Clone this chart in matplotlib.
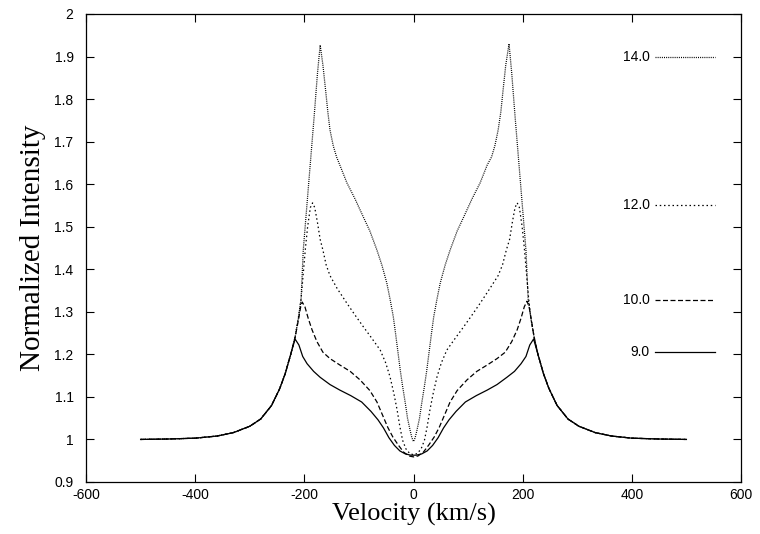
import matplotlib
matplotlib.use("Agg")
import matplotlib.pyplot as plt
from matplotlib.lines import Line2D

plt.rcParams['axes.unicode_minus'] = False

labels = ["14.0", "12.0", "10.0", "9.0"]

v9 = [-500, -450, -400, -360, -330, -300, -280, -260, -245, -235, -225, -217, -210, -203, -195,
      -183, -171, -153, -135, -115, -95, -78, -65, -55, -45, -35, -25, -15, -5,
      5, 15, 25, 35, 45, 55, 65, 78, 95, 115, 135, 153, 171, 185, 197, 206, 213, 220,
      228, 238, 248, 263, 283, 303, 333, 363, 400, 450, 500]
i9 = [1.000, 1.001, 1.003, 1.008, 1.016, 1.031, 1.048, 1.080, 1.120, 1.155, 1.200, 1.236, 1.222, 1.195, 1.178,
      1.160, 1.146, 1.129, 1.116, 1.103, 1.088, 1.066, 1.046, 1.027, 1.004, 0.986, 0.973, 0.966, 0.963,
      0.963, 0.966, 0.973, 0.986, 1.004, 1.027, 1.046, 1.066, 1.088, 1.103, 1.116, 1.129, 1.146, 1.160, 1.178, 1.195, 1.222, 1.236,
      1.200, 1.155, 1.120, 1.080, 1.048, 1.031, 1.016, 1.008, 1.003, 1.001, 1.000]

v10 = [-500, -450, -400, -360, -330, -300, -280, -260, -245, -235, -225, -217, -211, -207, -204, -199,
       -193, -186, -177, -166, -153, -135, -116, -98, -80, -67, -57, -47, -38, -28, -18, -8, 0,
       8, 18, 28, 38, 47, 57, 67, 80, 98, 116, 135, 153, 168, 180, 190, 197, 203, 208, 212, 216, 221,
       228, 238, 248, 263, 283, 303, 333, 363, 400, 450, 500]
i10 = [1.000, 1.001, 1.003, 1.008, 1.016, 1.031, 1.048, 1.080, 1.120, 1.155, 1.200, 1.240, 1.280, 1.310, 1.323, 1.312,
       1.285, 1.258, 1.230, 1.205, 1.190, 1.175, 1.160, 1.140, 1.115, 1.088, 1.058, 1.028, 1.006, 0.987, 0.970, 0.961, 0.959,
       0.961, 0.970, 0.987, 1.006, 1.028, 1.058, 1.088, 1.115, 1.140, 1.160, 1.175, 1.190, 1.205, 1.230, 1.258, 1.285, 1.312, 1.325, 1.310, 1.280, 1.240,
       1.200, 1.155, 1.120, 1.080, 1.048, 1.031, 1.016, 1.008, 1.003, 1.001, 1.000]

v12 = [-500, -450, -400, -360, -330, -300, -280, -260, -245, -235, -225, -217, -211, -206, -202, -198,
       -194, -189, -185, -181, -176, -171, -166, -160, -153, -140, -122, -107, -92, -76, -61, -51, -43,
       -36, -30, -25, -20, -14, -7, 0,
       7, 14, 20, 25, 30, 36, 43, 51, 61, 76, 92, 107, 122, 140, 155, 163, 170, 176, 181, 186, 190,
       194, 199, 203, 207, 211, 215, 221,
       228, 238, 248, 263, 283, 303, 333, 363, 400, 450, 500]
i12 = [1.000, 1.001, 1.003, 1.008, 1.016, 1.031, 1.048, 1.080, 1.120, 1.155, 1.200, 1.240, 1.285, 1.330, 1.390, 1.450,
       1.500, 1.545, 1.556, 1.545, 1.510, 1.470, 1.445, 1.410, 1.385, 1.355, 1.320, 1.292, 1.265, 1.237, 1.210, 1.180, 1.147,
       1.108, 1.069, 1.030, 0.998, 0.978, 0.967, 0.964,
       0.967, 0.978, 0.998, 1.030, 1.069, 1.108, 1.147, 1.180, 1.210, 1.237, 1.265, 1.292, 1.320, 1.355, 1.385, 1.410, 1.445, 1.470, 1.510, 1.545, 1.556,
       1.545, 1.500, 1.450, 1.390, 1.330, 1.285, 1.240,
       1.200, 1.155, 1.120, 1.080, 1.048, 1.031, 1.016, 1.008, 1.003, 1.001, 1.000]

v14 = [-500, -450, -400, -360, -330, -300, -280, -260, -245, -235, -225, -217, -211, -206, -202, -196,
       -189, -182, -176, -171, -166, -161, -157, -153, -147, -141, -135, -122, -107, -92, -80, -67, -58,
       -49, -43, -37, -33, -29, -24, -20, -15, -11, -6, -3, 0,
       3, 6, 11, 15, 20, 24, 29, 33, 37, 43, 49, 58, 67, 80, 92, 107, 122, 135, 143, 149, 155, 160,
       164, 169, 175, 180, 186, 193, 200, 206, 210, 215, 221,
       228, 238, 248, 263, 283, 303, 333, 363, 400, 450, 500]
i14 = [1.000, 1.001, 1.003, 1.008, 1.016, 1.031, 1.048, 1.080, 1.120, 1.155, 1.200, 1.240, 1.285, 1.330, 1.445, 1.540,
       1.650, 1.760, 1.860, 1.927, 1.880, 1.820, 1.770, 1.727, 1.690, 1.664, 1.645, 1.603, 1.565, 1.523, 1.490, 1.445, 1.410,
       1.368, 1.330, 1.288, 1.250, 1.210, 1.160, 1.125, 1.085, 1.050, 1.020, 1.004, 0.995,
       1.004, 1.020, 1.050, 1.085, 1.125, 1.160, 1.210, 1.250, 1.288, 1.330, 1.368, 1.410, 1.445, 1.490, 1.523, 1.565, 1.603, 1.645, 1.664, 1.690, 1.727, 1.770,
       1.820, 1.880, 1.930, 1.860, 1.760, 1.650, 1.540, 1.445, 1.330, 1.285, 1.240,
       1.200, 1.155, 1.120, 1.080, 1.048, 1.031, 1.016, 1.008, 1.003, 1.001, 1.000]

x_ticks = [-600, -400, -200, 0, 200, 400, 600]
y_ticks = [0.9, 1.0, 1.1, 1.2, 1.3, 1.4, 1.5, 1.6, 1.7, 1.8, 1.9, 2.0]
y_tick_labels = ["0.9", "1", "1.1", "1.2", "1.3", "1.4", "1.5", "1.6", "1.7", "1.8", "1.9", "2"]

series = [(v14, i14, (0, (0.8, 0.9))),
          (v12, i12, (0, (1.2, 2.2))),
          (v10, i10, (0, (4.0, 2.0))),
          (v9, i9, '-')]
legend_y = [0.908, 0.592, 0.389, 0.278]

fig = plt.figure(figsize=(7.6, 5.34), dpi=100)
ax = fig.add_axes([0.1132, 0.0974, 0.8618, 0.8764])

for (vv, ii, ls), lab, ly in zip(series, labels, legend_y):
    ax.plot(vv, ii, color='black', lw=0.9, linestyle=ls)
    ax.add_line(Line2D([0.869, 0.960], [ly, ly], transform=ax.transAxes,
                       color='black', lw=0.9, linestyle=ls))
    ax.text(0.861, ly, lab, transform=ax.transAxes, ha='right', va='center',
            fontsize=10, family='Liberation Sans')

ax.set_xlim(-600, 600)
ax.set_ylim(0.9, 2.0)
ax.set_xticks(x_ticks)
ax.set_xticklabels([str(t) for t in x_ticks])
ax.set_yticks(y_ticks)
ax.set_yticklabels(y_tick_labels)
ax.tick_params(direction='in', top=True, right=True, length=6, width=0.8,
               labelsize=10)
ax.tick_params(axis='y', pad=9)
ax.tick_params(axis='x', pad=4)
for lbl in ax.get_xticklabels() + ax.get_yticklabels():
    lbl.set_family('Liberation Sans')
for s in ax.spines.values():
    s.set_linewidth(0.9)

ax.set_xlabel("Velocity (km/s)", family='Liberation Serif', fontsize=19, labelpad=1)
ax.set_ylabel("Normalized Intensity", family='Liberation Serif', fontsize=21, labelpad=6)

fig.savefig("out.png", dpi=100)
